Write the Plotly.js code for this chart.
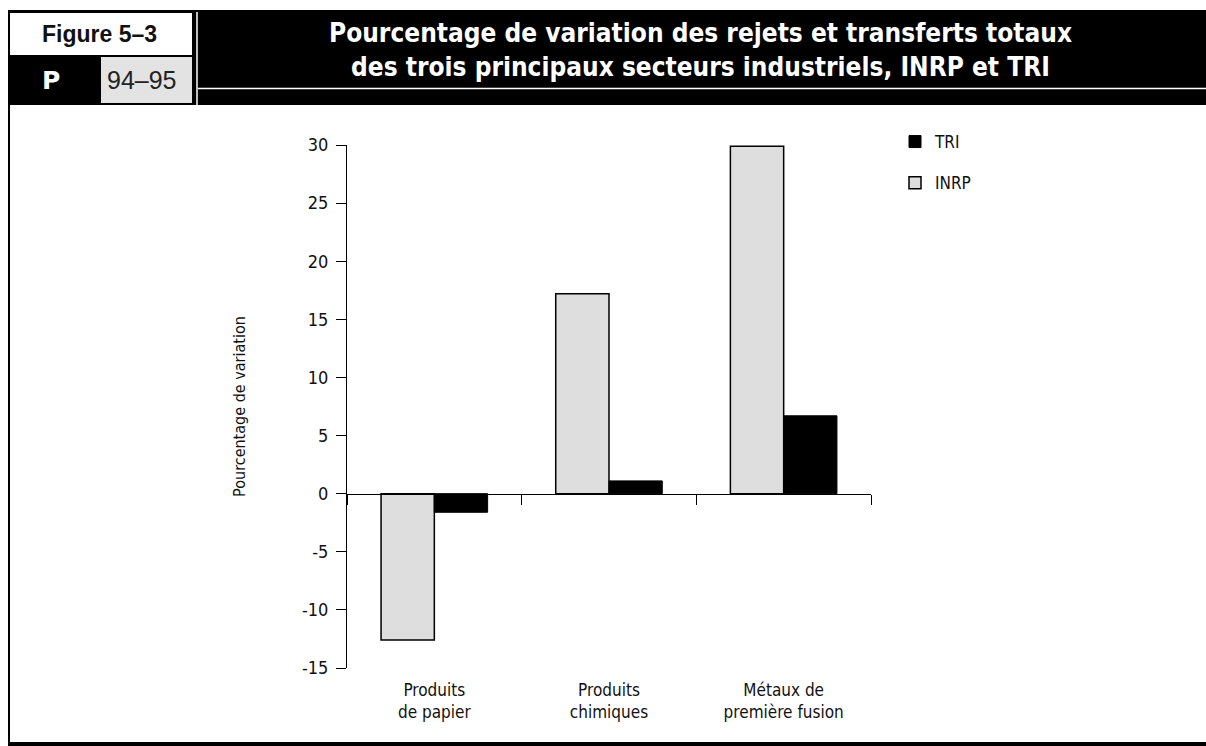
<!DOCTYPE html>
<html>
<head>
<meta charset="utf-8">
<script src="https://cdn.plot.ly/plotly-3.0.1.min.js"></script>
<style>html,body{margin:0;padding:0;background:#fff;}#chart{width:1206px;height:746px;}</style>
</head>
<body>
<div id="chart"></div>
<script>
// ---- data ----
var categories = ["Produits<br>de papier", "Produits<br>chimiques", "Métaux de<br>première fusion"];
var inrpValues = [-12.6, 17.2, 29.9];
var triValues = [-1.6, 1.1, 6.7];
var seriesNames = ["INRP", "TRI"];
var yTickValues = [-15, -10, -5, 0, 5, 10, 15, 20, 25, 30];
var yTickLabels = ["-15", "-10", "-5", "0", "5", "10", "15", "20", "25", "30"];

// ---- layout helpers ----
var W = 1206, H = 746;
var M = {l: 347, r: 335, t: 145, b: 78};
var PW = W - M.l - M.r, PH = H - M.t - M.b;
function fx(px) { return (px - M.l) / PW; }
function fy(py) { return (H - M.b - py) / PH; }
var yMin = -15, yMax = 30;

var narrow = "Liberation Sans Narrow, DejaVu Sans Condensed, Roboto Condensed, Arial Narrow, sans-serif";

function rect(x0, y0, x1, y1, fill, line) {
  return {type: "rect", xref: "paper", yref: "paper", x0: fx(x0), x1: fx(x1), y0: fy(y1), y1: fy(y0),
    fillcolor: fill, line: line || {width: 0}, layer: "above"};
}
function seg(x0, y0, x1, y1, color, w) {
  return {type: "line", xref: "paper", yref: "paper", x0: fx(x0), x1: fx(x1), y0: fy(y0), y1: fy(y1),
    line: {color: color, width: w}, layer: "above"};
}

var traces = [
  {type: "bar", name: seriesNames[0], x: categories, y: inrpValues, legendgroup: "a", legendrank: 2,
   marker: {color: "#dedede", line: {color: "#000", width: 1.5}}, hoverinfo: "y+name"},
  {type: "bar", name: seriesNames[1], x: categories, y: triValues, legendgroup: "b", legendrank: 1,
   marker: {color: "#000", line: {color: "#000", width: 1}}, hoverinfo: "y+name"},
  // invisible helper trace carrying the zero-level category axis (ticks at boundaries)
  {type: "scatter", mode: "markers", x: categories, y: inrpValues, xaxis: "x2", yaxis: "y",
   marker: {opacity: 0}, showlegend: false, hoverinfo: "skip"}
];

var layout = {
  width: W, height: H,
  margin: M,
  paper_bgcolor: "#fff", plot_bgcolor: "#fff",
  barmode: "group", bargap: 0.39, bargroupgap: 0,
  showlegend: true,
  legend: {x: fx(895), y: fy(124), xanchor: "left", yanchor: "top",
    traceorder: "grouped", tracegroupgap: 16,
    font: {family: narrow, size: 17, color: "#111"}, bgcolor: "rgba(0,0,0,0)"},
  xaxis: {type: "category", showline: false, ticks: "", zeroline: false, showgrid: false,
    range: [-0.5, 2.5], ticklabelstandoff: 10,
    tickfont: {family: narrow, size: 17, color: "#111"}, fixedrange: true},
  xaxis2: {type: "category", overlaying: "x", anchor: "free",
    position: (0 - yMin) / (yMax - yMin), side: "bottom",
    range: [-0.5, 2.5], showline: true, linecolor: "#000", linewidth: 1,
    ticks: "outside", tickson: "boundaries", ticklen: 10, tickcolor: "#000", tickwidth: 1,
    showticklabels: false, showgrid: false, zeroline: false, fixedrange: true},
  yaxis: {range: [yMin, yMax], tickvals: yTickValues, ticktext: yTickLabels,
    ticks: "outside", ticklen: 10,
    tickcolor: "#000", tickwidth: 1, showline: true, linecolor: "#000", linewidth: 1,
    showgrid: false, zeroline: false, ticklabelstandoff: 4,
    tickfont: {family: narrow, size: 18, color: "#111"},
    title: {text: "Pourcentage de variation", standoff: 52,
      font: {family: narrow, size: 16, color: "#111"}}, fixedrange: true},
  shapes: [
    rect(8, 10, 1206, 105, "#000"),
    rect(10, 13, 192, 55, "#fff"),
    rect(101, 57, 192, 103, "#e3e3e3"),
    seg(197, 12, 197, 105, "#fff", 1.5),
    seg(198, 88.5, 1206, 88.5, "#fff", 1.5),
    seg(9, 105, 9, 744, "#000", 2),
    seg(8, 744, 1206, 744, "#000", 4)
  ],
  annotations: [
    {text: "<b>Figure 5–3</b>", xref: "paper", yref: "paper", x: fx(99), y: fy(34),
     xanchor: "center", yanchor: "middle", showarrow: false,
     font: {family: "Liberation Sans, Arial, sans-serif", size: 23, color: "#111"}},
    {text: "<b>P</b>", xref: "paper", yref: "paper", x: fx(51), y: fy(80),
     xanchor: "center", yanchor: "middle", showarrow: false,
     font: {family: "DejaVu Sans, sans-serif", size: 25, color: "#fff"}},
    {text: "94–95", xref: "paper", yref: "paper", x: fx(142), y: fy(80),
     xanchor: "center", yanchor: "middle", showarrow: false,
     font: {family: "Liberation Sans, Arial, sans-serif", size: 25, color: "#222"}},
    {text: "<b>Pourcentage de variation des rejets et transferts totaux<br>des trois principaux secteurs industriels, INRP et TRI</b>",
     xref: "paper", yref: "paper", x: fx(700), y: fy(50),
     xanchor: "center", yanchor: "middle", showarrow: false, align: "center",
     font: {family: narrow, size: 26, color: "#fff"}}
  ]
};

Plotly.newPlot("chart", traces, layout, {displayModeBar: false, staticPlot: false});
</script>
</body>
</html>
